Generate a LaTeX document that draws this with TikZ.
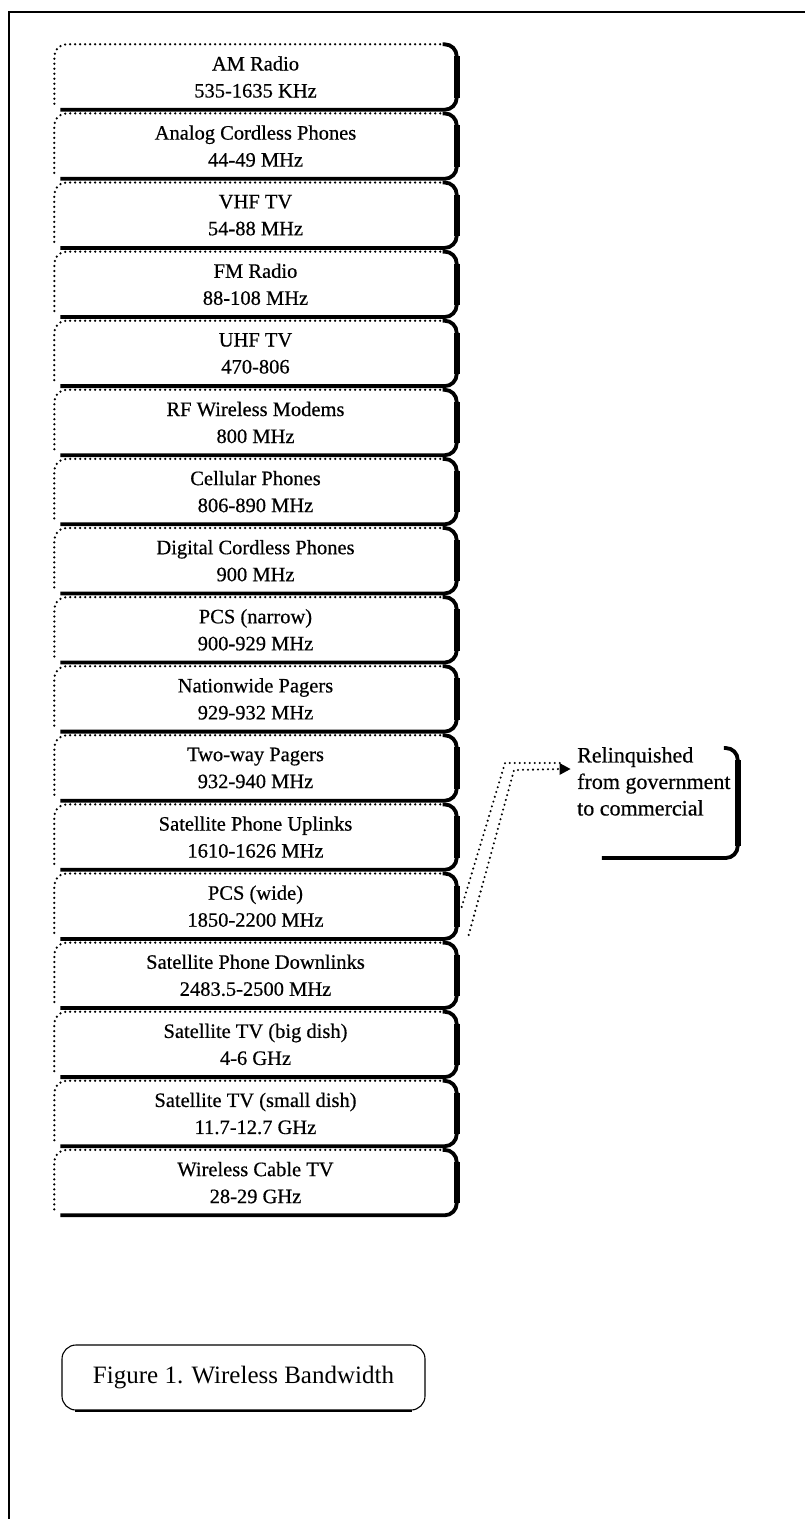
\documentclass[tikz,border=0pt]{standalone}
\usepackage{fontspec}
\setmainfont{Liberation Serif}
\newfontfamily\scanfont[BoldFont={Liberation Serif}, BoldFeatures={FakeBold=0.5}]{Liberation Serif}
\usetikzlibrary{arrows.meta,calc}
\tikzset{
  bandbox/.style={rectangle, minimum width=402pt, minimum height=65pt, inner sep=0pt,
    align=center, font=\scanfont\bfseries\fontsize{20.5}{27}\selectfont},
  dotedge/.style={line width=2.5pt, dash pattern=on 0pt off 5pt, line cap=round, rounded corners=12pt},
  shadowedge/.style={line width=3.8pt, rounded corners=12pt},
  shadowside/.style={line width=6pt},
  dotlink/.style={line width=2.3pt, dash pattern=on 0pt off 5pt, line cap=round},
  frameline/.style={line width=1.6pt},
}
\newcommand\drawband[4]{%
  \node[bandbox] (#1) at (255.5,-#2) {#3\\#4};
  \draw[dotedge] ([yshift=6pt]#1.south west) -- (#1.north west) -- ([xshift=-14pt]#1.north east);
  \draw[shadowedge] ([xshift=-14pt]#1.north east) -- (#1.north east) -- (#1.south east) -- ([xshift=6pt]#1.south west);
  \draw[shadowside] ([yshift=-12pt]#1.north east) -- ([yshift=12pt]#1.south east);
}
\begin{document}
\begin{tikzpicture}[x=1pt,y=1pt]
\useasboundingbox (0,0) rectangle (805,-1519);
\draw[frameline] (9,-1519) -- (9,-12) -- (805,-12);

\drawband{am}{77.0}{AM Radio}{535-1635 KHz}
\drawband{acp}{146.1}{Analog Cordless Phones}{44-49 MHz}
\drawband{vhf}{215.2}{VHF TV}{54-88 MHz}
\drawband{fm}{284.3}{FM Radio}{88-108 MHz}
\drawband{uhf}{353.4}{UHF TV}{470-806}
\drawband{rfm}{422.5}{RF Wireless Modems}{800 MHz}
\drawband{cell}{491.6}{Cellular Phones}{806-890 MHz}
\drawband{dcp}{560.7}{Digital Cordless Phones}{900 MHz}
\drawband{pcsn}{629.8}{PCS (narrow)}{900-929 MHz}
\drawband{nwp}{698.9}{Nationwide Pagers}{929-932 MHz}
\drawband{twp}{768.0}{Two-way Pagers}{932-940 MHz}
\drawband{spu}{837.1}{Satellite Phone Uplinks}{1610-1626 MHz}
\drawband{pcsw}{906.2}{PCS (wide)}{1850-2200 MHz}
\drawband{spd}{975.3}{Satellite Phone Downlinks}{2483.5-2500 MHz}
\drawband{stvb}{1044.4}{Satellite TV (big dish)}{4-6 GHz}
\drawband{stvs}{1113.5}{Satellite TV (small dish)}{11.7-12.7 GHz}
\drawband{wctv}{1182.6}{Wireless Cable TV}{28-29 GHz}

% callout
\node[anchor=north west, inner sep=3pt, align=left,
      font=\scanfont\bfseries\fontsize{22}{26.5}\selectfont] (rel) at (574,-744)
      {Relinquished\\from government\\to commercial};
\draw[shadowedge] ([shift={(-10pt,-4pt)}]rel.north east) -- ([shift={(4pt,-4pt)}]rel.north east)
   -- ([shift={(4pt,-114pt)}]rel.north east) -- ([shift={(-132pt,-114pt)}]rel.north east);
\draw[shadowside] ([shift={(4pt,-16pt)}]rel.north east) -- ([shift={(4pt,-102pt)}]rel.north east);

% double dotted link
\coordinate (s1) at ($(pcsw.south east)+(5,32)$);
\coordinate (s2) at ($(pcsw.south east)+(12,4)$);
\coordinate (b1) at (505,-763);
\coordinate (b2) at (514,-770);
\coordinate (e1) at ($(rel.north west)+(-12,-19)$);
\coordinate (e2) at ($(rel.north west)+(-4,-25)$);
\draw[dotlink] (s1) -- (b1) -- (e1);
\draw[dotlink] (s2) -- (b2) -- ($(e2)+(-8,0)$);
\fill ($(e2)+(0.5,0)$) -- ++(-11,6) -- ++(0,-12) -- cycle;

% caption
\node[draw, rounded corners=14pt, line width=1.1pt, minimum width=363pt, minimum height=65pt,
      inner sep=0pt, font=\fontsize{25}{30}\selectfont] (cap) at (243.5,-1377.5)
      {\raisebox{-10pt}{Figure 1. Wireless Bandwidth}};
\draw[line width=2pt] ([xshift=14pt]cap.south west) -- ([xshift=-14pt]cap.south east);
\end{tikzpicture}
\end{document}
